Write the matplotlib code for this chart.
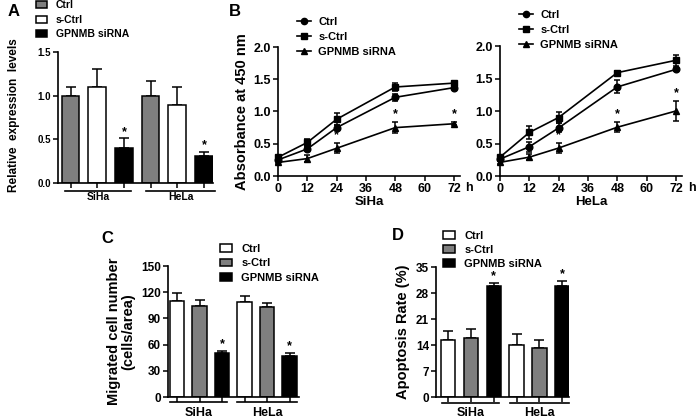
import matplotlib
matplotlib.use("Agg")
import matplotlib.pyplot as plt
from matplotlib.patches import Patch
from matplotlib.lines import Line2D
import numpy as np

plt.rcParams['font.family'] = ['Liberation Sans', 'DejaVu Sans']
plt.rcParams['font.weight'] = 'bold'

W, H = 700, 419

# ---------------- data ----------------
groups = ['SiHa', 'HeLa']
series = ['Ctrl', 's-Ctrl', 'GPNMB siRNA']

# Panel A: relative expression
A_ctrl = [1.00, 1.00]
A_ctrl_err = [0.10, 0.17]
A_sctrl = [1.10, 0.89]
A_sctrl_err = [0.20, 0.21]
A_si = [0.40, 0.31]
A_si_err = [0.11, 0.05]

# Panel B: absorbance at 450 nm
hours = [0, 12, 24, 48, 72]
SiHa_ctrl = [0.25, 0.42, 0.75, 1.22, 1.37]
SiHa_ctrl_err = [0.02, 0.03, 0.04, 0.05, 0.02]
SiHa_sctrl = [0.29, 0.52, 0.88, 1.38, 1.44]
SiHa_sctrl_err = [0.02, 0.05, 0.09, 0.06, 0.03]
SiHa_si = [0.21, 0.27, 0.43, 0.75, 0.81]
SiHa_si_err = [0.02, 0.06, 0.08, 0.08, 0.02]
HeLa_ctrl = [0.26, 0.45, 0.74, 1.37, 1.64]
HeLa_ctrl_err = [0.02, 0.08, 0.07, 0.10, 0.02]
HeLa_sctrl = [0.29, 0.67, 0.90, 1.59, 1.78]
HeLa_sctrl_err = [0.02, 0.10, 0.08, 0.03, 0.08]
HeLa_si = [0.21, 0.29, 0.43, 0.75, 1.00]
HeLa_si_err = [0.02, 0.05, 0.08, 0.08, 0.15]
star_hours = [24, 48, 72]

# Panel C: migrated cells
C_ctrl = [110.0, 109.0]
C_ctrl_err = [9.0, 6.5]
C_sctrl = [103.7, 102.6]
C_sctrl_err = [7.0, 4.5]
C_si = [50.0, 46.7]
C_si_err = [3.0, 4.0]

# Panel D: apoptosis rate
D_ctrl = [15.4, 14.1]
D_ctrl_err = [2.4, 2.8]
D_sctrl = [15.8, 13.3]
D_sctrl_err = [2.4, 2.1]
D_si = [29.8, 30.0]
D_si_err = [1.0, 1.2]

GRAY = '#7f7f7f'

fig = plt.figure(figsize=(7, 4.19), dpi=100)


def rect(l, t, r, b):
    return [l / W, 1 - b / H, (r - l) / W, (b - t) / H]


def style(ax, fs):
    for s in ['top', 'right']:
        ax.spines[s].set_visible(False)
    for s in ['left', 'bottom']:
        ax.spines[s].set_linewidth(1.2)
    ax.tick_params(direction='out', width=1.1, length=3.5, labelsize=fs, pad=1.5)
    for lab in ax.get_yticklabels() + ax.get_xticklabels():
        lab.set_fontweight('bold')


def bar_panel(ax, vals, errs, colors, xlim, width, ylim, yticks, ylabfmt, fs,
              ul_y, lab_y, lab_fs, star_off, star_fs, ul_ranges):
    pos_all = []
    for s, (v, e, c) in enumerate(zip(vals, errs, colors)):
        pos = [g * 3 + s for g in range(len(groups))]
        pos_all += pos
        ax.bar(pos, v, width=width, color=c, edgecolor='black', linewidth=1.1, zorder=2)
        ax.errorbar(pos, v, yerr=[np.zeros(len(e)), e], fmt='none', ecolor='black',
                    elinewidth=1.1, capsize=3.5, capthick=1.1, zorder=1)
        if s == 2:
            for p, vv, ee in zip(pos, v, e):
                ax.text(p, vv + ee + star_off, '*', ha='center', va='bottom',
                        fontsize=star_fs, fontweight='bold')
    ax.set_xlim(*xlim)
    ax.set_ylim(*ylim)
    ax.set_yticks(yticks)
    ax.set_yticklabels([ylabfmt.format(t) for t in yticks])
    ax.set_xticks(sorted(pos_all))
    ax.set_xticklabels([])
    style(ax, fs)
    tr = ax.get_xaxis_transform()
    for (x0, x1), g in zip(ul_ranges, groups):
        ax.plot([x0, x1], [ul_y, ul_y], color='black', lw=1.2, transform=tr, clip_on=False)
        ax.text((x0 + x1) / 2, lab_y, g, ha='center', va='center', transform=tr,
                fontsize=lab_fs, fontweight='bold')


# ---------------- Panel A ----------------
axA = fig.add_axes(rect(58, 52, 213, 183))
bar_panel(axA, [A_ctrl, A_sctrl, A_si], [A_ctrl_err, A_sctrl_err, A_si_err],
          [GRAY, 'white', 'black'], (-0.47, 5.34), 0.66, (0, 1.5),
          [0.0, 0.5, 1.0, 1.5], '{:.1f}', 7, -0.062, -0.11, 7.5, 0.0, 9,
          [(-0.21, 2.27), (2.83, 5.42)])
axA.set_ylabel('Relative  expression  levels', fontsize=8.5, fontweight='bold')
axA.yaxis.set_label_coords((20 - 58) / 155, 0.52)
fig.legend(handles=[Patch(facecolor=c, edgecolor='black', linewidth=1.1) for c in [GRAY, 'white', 'black']],
           labels=series, loc='upper left', bbox_to_anchor=(36 / W, 1 - 0 / H),
           frameon=False, handlelength=1.1, handleheight=0.65,
           handletextpad=0.8, labelspacing=0.45, borderpad=0, borderaxespad=0,
           prop={'weight': 'bold', 'size': 7.5})
fig.text(8 / W, 1 - 12 / H, 'A', fontsize=12, fontweight='bold', va='center', ha='left')


# ---------------- Panel B ----------------
def line_panel(ax, ctrl, ce, sctrl, se, si, sie, xlabel, hx):
    kw = dict(color='black', lw=1.2, elinewidth=1.1, capsize=2.5, capthick=1.1,
              markersize=4.8, clip_on=False, zorder=3)
    ax.errorbar(hours, ctrl, yerr=ce, fmt='-o', label='Ctrl', **kw)
    ax.errorbar(hours, sctrl, yerr=se, fmt='-s', label='s-Ctrl', **kw)
    ax.errorbar(hours, si, yerr=sie, fmt='-^', label='GPNMB siRNA', **kw)
    for h in star_hours:
        i = hours.index(h)
        ax.text(h, si[i] + sie[i] + 0.03, '*', ha='center', va='bottom',
                fontsize=9, fontweight='bold')
    ax.set_xlim(0, 74.5)
    ax.set_ylim(0, 2.0)
    ax.set_xticks(range(0, 73, 12))
    ax.set_yticks([0.0, 0.5, 1.0, 1.5, 2.0])
    ax.set_yticklabels(['0.0', '0.5', '1.0', '1.5', '2.0'])
    style(ax, 9)
    ax.set_xlabel(xlabel, fontsize=9.5, fontweight='bold', labelpad=1)
    ax.text(hx, -0.095, 'h', transform=ax.get_xaxis_transform(), ha='center', va='center',
            fontsize=9, fontweight='bold')


axB1 = fig.add_axes(rect(278, 47, 460, 176))
line_panel(axB1, SiHa_ctrl, SiHa_ctrl_err, SiHa_sctrl, SiHa_sctrl_err, SiHa_si, SiHa_si_err, 'SiHa', 78)
axB1.set_ylabel('Absorbance at 450 nm', fontsize=10.5, fontweight='bold', labelpad=3)
axB2 = fig.add_axes(rect(500, 46, 682, 176))
line_panel(axB2, HeLa_ctrl, HeLa_ctrl_err, HeLa_sctrl, HeLa_sctrl_err, HeLa_si, HeLa_si_err, 'HeLa', 78.5)


def line_handles():
    return [Line2D([0], [0], color='black', lw=1.2, marker=m, markersize=4.5) for m in ['o', 's', '^']]


for (x, y) in [(297, 17), (519, 10)]:
    fig.legend(handles=line_handles(), labels=series, loc='upper left',
               bbox_to_anchor=(x / W, 1 - y / H), frameon=False, handlelength=1.3,
               handletextpad=0.6, labelspacing=0.45, borderpad=0, borderaxespad=0,
               prop={'weight': 'bold', 'size': 8})
fig.text(229 / W, 1 - 12 / H, 'B', fontsize=12, fontweight='bold', va='center', ha='left')

# ---------------- Panel C ----------------
axC = fig.add_axes(rect(168, 266, 299, 397))
bar_panel(axC, [C_ctrl, C_sctrl, C_si], [C_ctrl_err, C_sctrl_err, C_si_err],
          ['white', GRAY, 'black'], (-0.4, 5.42), 0.64, (0, 150),
          [0, 30, 60, 90, 120, 150], '{:d}', 8.5, -0.04, -0.12, 9, 1.0, 9,
          [(-0.31, 2.22), (2.67, 5.33)])
axC.set_ylabel('Migrated cell number\n(cells/area)', fontsize=10.5, fontweight='bold',
               labelpad=4, linespacing=1.1)
fig.legend(handles=[Patch(facecolor=c, edgecolor='black', linewidth=1.1) for c in ['white', GRAY, 'black']],
           labels=series, loc='upper left', bbox_to_anchor=(220 / W, 1 - 244 / H),
           frameon=False, handlelength=1.1, handleheight=0.65,
           handletextpad=0.8, labelspacing=0.4, borderpad=0, borderaxespad=0,
           prop={'weight': 'bold', 'size': 8})
fig.text(101 / W, 1 - 238 / H, 'C', fontsize=12, fontweight='bold', va='center', ha='left')

# ---------------- Panel D ----------------
axD = fig.add_axes(rect(436, 267, 569, 397))
bar_panel(axD, [D_ctrl, D_sctrl, D_si], [D_ctrl_err, D_sctrl_err, D_si_err],
          ['white', GRAY, 'black'], (-0.53, 5.3), 0.63, (0, 35),
          [0, 7, 14, 21, 28, 35], '{:d}', 8.5, -0.045, -0.12, 9, 0.2, 9,
          [(-0.28, 2.24), (2.72, 5.3)])
axD.set_ylabel('Apoptosis Rate (%)', fontsize=10.5, fontweight='bold', labelpad=4)
fig.legend(handles=[Patch(facecolor=c, edgecolor='black', linewidth=1.1) for c in ['white', GRAY, 'black']],
           labels=series, loc='upper left', bbox_to_anchor=(443 / W, 1 - 231 / H),
           frameon=False, handlelength=1.1, handleheight=0.65,
           handletextpad=0.8, labelspacing=0.35, borderpad=0, borderaxespad=0,
           prop={'weight': 'bold', 'size': 8})
fig.text(392 / W, 1 - 235 / H, 'D', fontsize=12, fontweight='bold', va='center', ha='left')

fig.savefig('out.png', dpi=100)
